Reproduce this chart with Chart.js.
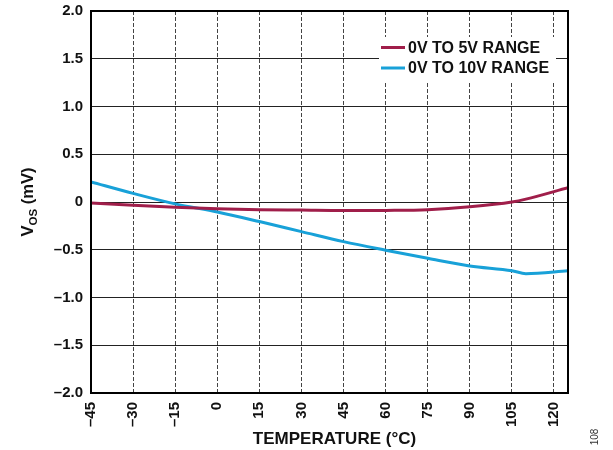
<!DOCTYPE html>
<html>
<head>
<meta charset="utf-8">
<script src="https://cdn.jsdelivr.net/npm/chart.js@4/dist/chart.umd.min.js"></script>
<style>
  html, body { margin: 0; padding: 0; background: #fff; }
  #wrap { width: 613px; height: 450px; position: relative; }
</style>
</head>
<body>
<div id="wrap"><canvas id="c" width="613" height="450"></canvas></div>
<script>
// ---- data ----
const temperatures = [-45, -30, -15, 0, 15, 30, 45, 60, 75, 90, 105, 110, 125];
const range5V  = [-0.01, -0.035, -0.055, -0.07, -0.08, -0.085, -0.09, -0.088, -0.08, -0.05, 0.0, 0.03, 0.15];
const range10V = [0.21, 0.09, -0.02, -0.105, -0.205, -0.31, -0.415, -0.505, -0.59, -0.67, -0.72, -0.75, -0.72];
const seriesLabels = ['0V TO 5V RANGE', '0V TO 10V RANGE'];
const xTickValues = [-45, -30, -15, 0, 15, 30, 45, 60, 75, 90, 105, 120];
const xTickLabels = ['–45', '–30', '–15', '0', '15', '30', '45', '60', '75', '90', '105', '120'];
const yTickValues = [-2, -1.5, -1, -0.5, 0, 0.5, 1, 1.5, 2];
const yTickLabels = ['–2.0', '–1.5', '–1.0', '–0.5', '0', '0.5', '1.0', '1.5', '2.0'];
const xTitle = 'TEMPERATURE (°C)';
const yTitleParts = ['V', 'OS', ' (mV)'];
const figureNote = '108';

const FONT = '"Liberation Sans", Arial, Helvetica, sans-serif';
const colors = ['#A01E4A', '#18A1D8'];

const toPoints = (xs, ys) => xs.map((x, i) => ({ x: x, y: ys[i] }));

const decor = {
  id: 'decor',
  afterDatasetsDraw(chart) {
    const ctx = chart.ctx;
    const a = chart.chartArea;
    ctx.save();
    // legend box
    ctx.fillStyle = '#fff';
    ctx.fillRect(379, 37, 177, 44);
    ctx.font = 'bold 16px ' + FONT;
    ctx.textBaseline = 'middle';
    ctx.textAlign = 'left';
    const rows = [47.5, 68];
    seriesLabels.forEach((lab, i) => {
      ctx.strokeStyle = colors[i];
      ctx.lineWidth = 3;
      ctx.beginPath();
      ctx.moveTo(381, rows[i]);
      ctx.lineTo(405, rows[i]);
      ctx.stroke();
      ctx.fillStyle = '#111';
      ctx.fillText(lab, 408, rows[i] + 1);
    });
    // plot border
    ctx.strokeStyle = '#000';
    ctx.lineWidth = 2;
    ctx.strokeRect(a.left, a.top, a.right - a.left, a.bottom - a.top);
    ctx.restore();
  },
  afterDraw(chart) {
    const ctx = chart.ctx;
    const a = chart.chartArea;
    ctx.save();
    ctx.fillStyle = '#111';
    // x title
    ctx.font = 'bold 17px ' + FONT;
    ctx.textAlign = 'center';
    ctx.textBaseline = 'alphabetic';
    ctx.fillText(xTitle, (a.left + a.right) / 2 + 5, 444);
    // y title with subscript
    ctx.translate(33, (a.top + a.bottom) / 2);
    ctx.rotate(-Math.PI / 2);
    const big = 'bold 16.5px ' + FONT, small = 'bold 11.5px ' + FONT;
    ctx.font = big; const w1 = ctx.measureText(yTitleParts[0]).width;
    ctx.font = small; const w2 = ctx.measureText(yTitleParts[1]).width;
    ctx.font = big; const w3 = ctx.measureText(yTitleParts[2]).width;
    let x = -(w1 + w2 + w3) / 2;
    ctx.textAlign = 'left';
    ctx.font = big; ctx.fillText(yTitleParts[0], x, 0); x += w1;
    ctx.font = small; ctx.fillText(yTitleParts[1], x, 4); x += w2;
    ctx.font = big; ctx.fillText(yTitleParts[2], x, 0);
    ctx.restore();
    // figure note
    ctx.save();
    ctx.translate(598, 437);
    ctx.rotate(-Math.PI / 2);
    ctx.font = '10px ' + FONT;
    ctx.fillStyle = '#333';
    ctx.textAlign = 'center';
    ctx.textBaseline = 'alphabetic';
    ctx.fillText(figureNote, 0, 0);
    ctx.restore();
  }
};

new Chart(document.getElementById('c'), {
  type: 'line',
  data: {
    datasets: [
      { label: seriesLabels[0], data: toPoints(temperatures, range5V), borderColor: colors[0], borderWidth: 3, pointRadius: 0, cubicInterpolationMode: 'monotone', fill: false },
      { label: seriesLabels[1], data: toPoints(temperatures, range10V), borderColor: colors[1], borderWidth: 3, pointRadius: 0, cubicInterpolationMode: 'monotone', fill: false }
    ]
  },
  options: {
    responsive: false,
    animation: false,
    devicePixelRatio: 1,
    layout: { padding: { left: 0, top: 11, right: 45, bottom: 0 } },
    plugins: { legend: { display: false }, tooltip: { enabled: false }, title: { display: false } },
    scales: {
      x: {
        type: 'linear',
        min: -45, max: 125,
        afterBuildTicks: (s) => { s.ticks = xTickValues.map(v => ({ value: v })); },
        afterFit: (s) => { s.height = 57; s.paddingLeft = 0; s.paddingRight = 0; },
        ticks: {
          autoSkip: false, maxRotation: 90, minRotation: 90, padding: 9,
          color: '#111', font: { family: FONT, size: 15, weight: 'bold' },
          callback: (v) => xTickLabels[xTickValues.indexOf(v)]
        },
        grid: { color: '#444', lineWidth: 1, drawTicks: false },
        border: { display: false, dash: [4, 2] }
      },
      y: {
        type: 'linear',
        min: -2, max: 2,
        afterBuildTicks: (s) => { s.ticks = yTickValues.map(v => ({ value: v })); },
        afterFit: (s) => { s.width = 91; s.paddingTop = 0; s.paddingBottom = 0; },
        ticks: {
          autoSkip: false, padding: 8,
          color: '#111', font: { family: FONT, size: 15, weight: 'bold' },
          callback: (v) => yTickLabels[yTickValues.indexOf(v)]
        },
        grid: { color: '#222', lineWidth: 1, drawTicks: false },
        border: { display: false }
      }
    }
  },
  plugins: [decor]
});
</script>
</body>
</html>
